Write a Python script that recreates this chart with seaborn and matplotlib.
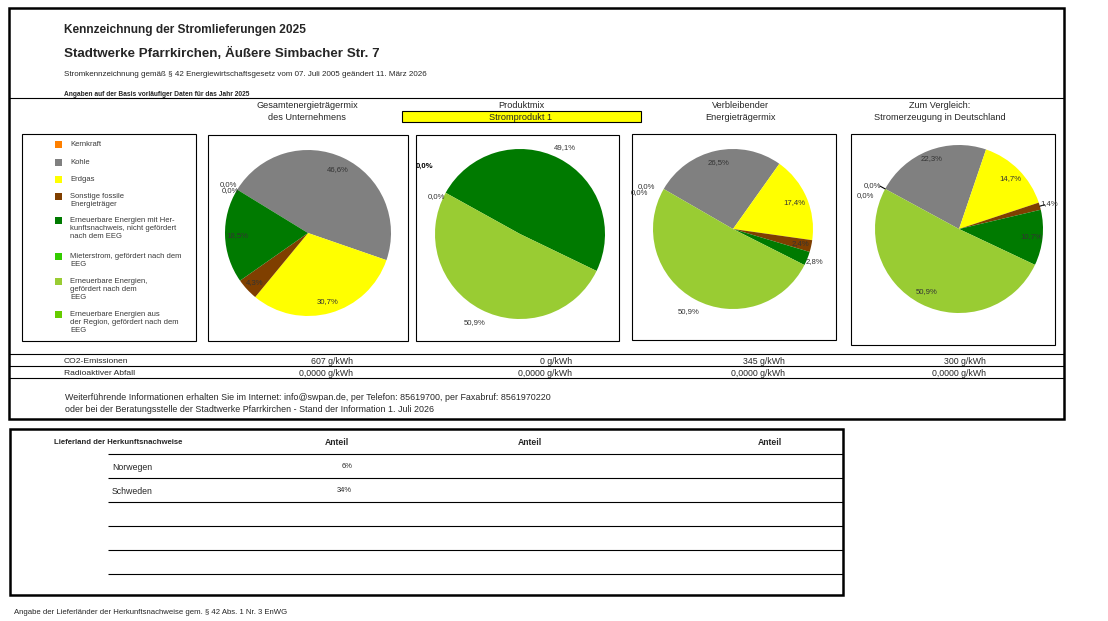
import matplotlib
matplotlib.use("Agg")
import numpy as np
import matplotlib.pyplot as plt
from matplotlib.patches import Rectangle
import seaborn as sns

W, H = 1108, 621

# energy sources, in pie order (clockwise)
sources = [
    "Kernkraft",
    "Kohle",
    "Erdgas",
    "Sonstige fossile\nEnergieträger",
    "Erneuerbare Energien mit Her-\nkunftsnachweis, nicht gefördert\nnach dem EEG",
    "Mieterstrom, gefördert nach dem\nEEG",
    "Erneuerbare Energien,\ngefördert nach dem\nEEG",
    "Erneuerbare Energien aus\nder Region, gefördert nach dem\nEEG",
]
source_colors = ["#FF8000", "#808080", "#FFFF00", "#7F3F00",
                 "#007A00", "#33CC00", "#99CC33", "#66CC00"]

mix_titles = ["Gesamtenergieträgermix\ndes Unternehmens",
              "Produktmix",
              "Verbleibender\nEnergieträgermix",
              "Zum Vergleich:\nStromerzeugung in Deutschland"]
product_name = "Stromprodukt 1"

mix_gesamt = [0.0, 46.6, 30.7, 4.3, 18.5, 0.0, 0.0, 0.0]
mix_produkt = [0.0, 0.0, 0.0, 0.0, 49.1, 0.0, 50.9, 0.0]
mix_rest = [0.0, 26.5, 17.4, 2.4, 2.8, 0.0, 50.9, 0.0]
mix_de = [0.0, 22.3, 14.7, 1.4, 10.7, 0.0, 50.9, 0.0]

co2 = [607, 0, 345, 300]
waste = [0.0, 0.0, 0.0, 0.0]

countries = ["Norwegen", "Schweden"]
country_shares = [6, 34]

sns.set_style("white")
plt.rcParams["font.family"] = ["Liberation Sans", "DejaVu Sans"]

fig = plt.figure(figsize=(W / 100, H / 100), dpi=100)
ax = fig.add_axes([0, 0, 1, 1])


def Y(py):
    return H - py


def hline(y, x0, x1, lw=0.8):
    ax.plot([x0, x1], [Y(y), Y(y)], color="black", lw=lw, solid_capstyle="butt")


def box(x0, y0, x1, y1, lw=0.8, fc="none", z=1):
    ax.add_patch(Rectangle((x0, Y(y1)), x1 - x0, y1 - y0, fc=fc, ec="black",
                           lw=lw, zorder=z))


def txt(x, y, s, size=6.3, **kw):
    ax.text(x, Y(y), s, fontsize=size, va="center_baseline", **kw)


def pct(v):
    return f"{v:.1f}%".replace(".", ",")


# frames
box(9, 8, 1064, 419, lw=1.8)
hline(97.5, 9, 1064)
for y in (354, 366, 378):
    hline(y, 9, 1064)
box(10, 429, 843, 595, lw=1.8)

# header
txt(64, 28, "Kennzeichnung der Stromlieferungen 2025", size=8.6, fontweight="bold")
txt(64, 52, "Stadtwerke Pfarrkirchen, Äußere Simbacher Str. 7", size=9.6, fontweight="bold")
txt(64, 74, "Stromkennzeichnung gemäß § 42 Energiewirtschaftsgesetz vom 07. Juli 2005 "
    "geändert 11. März 2026", size=5.8)
txt(64, 93, "Angaben auf der Basis vorläufiger Daten für das Jahr 2025", size=4.8,
    fontweight="bold")

col_x = [307, 521, 741, 940]
for cx, title in zip(col_x, mix_titles):
    lines = title.split("\n")
    for k, line in enumerate(lines):
        txt(cx, 105 + 12 * k, line, size=6.6, ha="center")
box(402, 110.5, 641, 121.5, fc="#FFFF00")
txt(521, 116.5, product_name, size=6.6, ha="center", zorder=3)

# legend
box(22, 134, 196, 341)
legend_y = [144, 162, 179, 196, 220, 256, 281, 314]
for name, col, ly in zip(sources, source_colors, legend_y):
    ax.add_patch(Rectangle((54.5, Y(ly) - 3.5), 7, 7, fc=col, ec="none"))
    ax.text(70, Y(ly) + 3, name, fontsize=5.5, va="top", ha="left",
            color="#3a3a3a", linespacing=1.2)

# pies
pie_boxes = [(208, 135, 408, 341), (416, 135, 619, 341),
             (632, 134, 836, 340), (851, 134, 1055, 345)]
pies = [
    dict(values=mix_gesamt, cx=308, cy=233, r=83, start=148.5,
         dist=[0, .84, .86, .88, .85, 0, 0, 0],
         zero=[(0, 1.12), (3, 1.06)], zero_bold=False, lead=False),
    dict(values=mix_produkt, cx=520, cy=234, r=85, start=151,
         dist=[0, 0, 0, 0, 1.14, 0, 1.17, 0],
         zero=[(-6.3, 1.38), (4.7, 1.08)], zero_bold=True, lead=False),
    dict(values=mix_rest, cx=733, cy=229, r=80, start=150,
         dist=[0, .85, .84, .86, 1.1, 0, 1.17, 0],
         zero=[(4, 1.2), (8.8, 1.25)], zero_bold=False, lead=False),
    dict(values=mix_de, cx=959, cy=229, r=84, start=151.5,
         dist=[0, .9, .86, 1.12, .86, 0, .84, 0],
         zero=[(1.5, 1.15), (8.5, 1.18)], zero_bold=False, lead=True),
]
for b in pie_boxes:
    box(*b)

for p in pies:
    vals = p["values"]
    cx, cy, r = p["cx"], Y(p["cy"]), p["r"]
    wedges, _ = ax.pie(vals, colors=source_colors, startangle=p["start"],
                       counterclock=False, center=(cx, cy), radius=r,
                       wedgeprops=dict(linewidth=0), normalize=True)
    nz = [i for i, v in enumerate(vals) if v > 0]
    for i in nz:
        w = wedges[i]
        th = np.deg2rad((w.theta1 + w.theta2) / 2)
        d = p["dist"][i]
        ax.text(cx + d * r * np.cos(th), cy + d * r * np.sin(th), pct(vals[i]),
                fontsize=5.6, color="#333333", ha="center", va="center", zorder=4)
        if p["lead"] and d > 1:
            ax.plot([cx + r * np.cos(th), cx + 1.06 * r * np.cos(th)],
                    [cy + r * np.sin(th), cy + 1.06 * r * np.sin(th)],
                    color="black", lw=0.8)
    # zero-share slices: leading ones and trailing ones sit at the start angle
    groups = [nz[0] > 0, nz[-1] < len(vals) - 1]
    for k, (has_zero, (off, d)) in enumerate(zip(groups, p["zero"])):
        if not has_zero:
            continue
        th = np.deg2rad(p["start"] + off)
        bold = p["zero_bold"] and k == 0
        ax.text(cx + d * r * np.cos(th), cy + d * r * np.sin(th), pct(0.0),
                fontsize=5.6, color="black" if bold else "#333333",
                fontweight="bold" if bold else "normal", ha="center", va="center")
    if p["lead"]:
        th0 = np.deg2rad(p["start"])
        ax.plot([cx + r * np.cos(th0), cx + 1.07 * r * np.cos(th0)],
                [cy + r * np.sin(th0), cy + 1.07 * r * np.sin(th0)],
                color="black", lw=0.8)

# emissions rows
val_right = [353, 572, 785, 986]
txt(64, 360.5, "CO2-Emissionen", size=6.1)
txt(64, 372.5, "Radioaktiver Abfall", size=6.1)
for xr, c, wv in zip(val_right, co2, waste):
    txt(xr, 360.5, f"{c} g/kWh", ha="right")
    txt(xr, 372.5, f"{wv:.4f} g/kWh".replace(".", ","), ha="right")

txt(65, 397, "Weiterführende Informationen erhalten Sie im Internet: info@swpan.de, "
    "per Telefon: 85619700, per Faxabruf: 8561970220", size=6.4)
txt(65, 409, "oder bei der Beratungsstelle der Stadtwerke Pfarrkirchen - "
    "Stand der Information 1. Juli 2026", size=6.4)

# origin countries table
txt(54, 441.5, "Lieferland der Herkunftsnachweise", size=5.6, fontweight="bold")
for xa in (337, 530, 770):
    txt(xa, 441.5, "Anteil", size=6.2, fontweight="bold", ha="center")
row_lines = [454, 478, 502, 526, 550, 574]
for y in row_lines:
    hline(y, 108, 843)
for k, (cn, sh) in enumerate(zip(countries, country_shares)):
    yc = (row_lines[k] + row_lines[k + 1]) / 2
    txt(112, yc, cn)
    txt(352, yc, f"{sh}%", size=5.4, ha="right")

txt(14, 611, "Angabe der Lieferländer der Herkunftsnachweise gem. § 42 Abs. 1 Nr. 3 EnWG",
    size=5.6)

ax.set_xlim(0, W)
ax.set_ylim(0, H)
ax.set_aspect("auto")
ax.axis("off")

fig.savefig("out.png", dpi=100, facecolor="white")
